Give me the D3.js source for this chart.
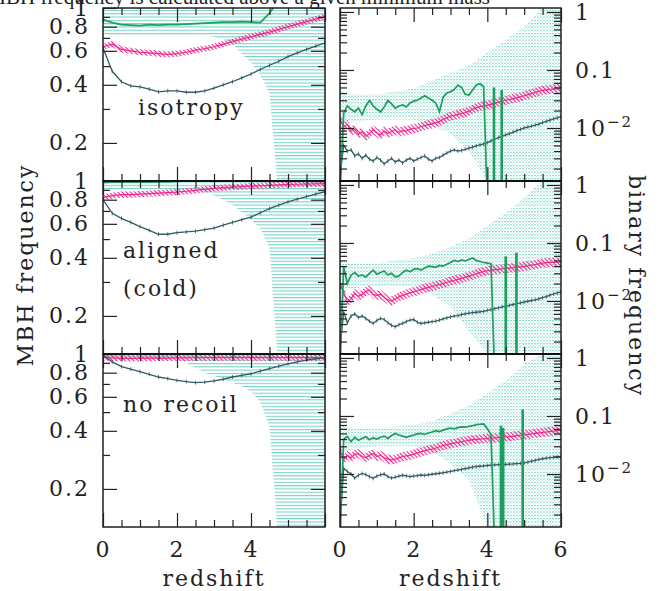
<!DOCTYPE html>
<html lang="en">
<head>
<meta charset="UTF-8">
<title>MBH and binary frequency vs redshift</title>
<script src="https://cdn.jsdelivr.net/npm/d3@7.8.5/dist/d3.min.js"></script>
<style>
  body { margin: 0; background: #fff; }
  svg { display: block; }
  .lbl { font-family: "DejaVu Serif", serif; font-size: 22px; letter-spacing: 2px; fill: #222; }
</style>
</head>
<body>
<svg id="chart" width="662" height="591"></svg>
<script>
// redshift grids
const LZ = [0,0.25,0.5,0.75,1,1.25,1.5,1.75,2,2.25,2.5,2.75,3,3.25,3.5,3.75,4,4.25,4.5,4.75,5,5.25,5.5,5.75,6];
const RZ = [0,0.1,0.2,0.3,0.4,0.5,0.6,0.7,0.8,0.9,1,1.1,1.2,1.3,1.4,1.5,1.6,1.7,1.8,1.9,
  2,2.1,2.2,2.3,2.4,2.5,2.6,2.7,2.8,2.9,3,3.1,3.2,3.3,3.4,3.5,3.6,3.7,3.8,3.9,
  4,4.1,4.2,4.3,4.4,4.5,4.6,4.7,4.8,4.9,5,5.1,5.2,5.3,5.4,5.5,5.6,5.7,5.8,5.9,6];
const TZ = [0,0.15,0.5,1,1.5,2,2.5,3,3.5,4,4.5,5,5.5,6];

const PANEL_NAMES = ["isotropy", "aligned\n(cold)", "no recoil"];

// MBH frequency (left column), on LZ
const ISO_L_GREEN = [0.87,0.84,0.82,0.815,0.81,0.82,0.815,0.82,0.82,0.825,0.83,0.835,0.84,0.845,0.845,0.85,0.845,0.84,0.94,1.1,null,null,null,null,null];
const ISO_L_MAG = [0.63,0.65,0.61,0.60,0.59,0.585,0.58,0.575,0.58,0.59,0.605,0.615,0.63,0.65,0.67,0.69,0.71,0.73,0.75,0.775,0.80,0.825,0.85,0.875,0.90];
const ISO_L_DARK = [0.62,0.47,0.415,0.395,0.39,0.38,0.368,0.372,0.372,0.366,0.366,0.372,0.385,0.40,0.415,0.435,0.455,0.48,0.505,0.53,0.56,0.585,0.61,0.635,0.66];
const ISO_L_LO = [0.73,0.72,0.72,0.72,0.72,0.72,0.72,0.72,0.72,0.72,0.72,0.72,0.71,0.69,0.65,0.58,0.52,0.45,0.36,0.1,0.1,0.1,0.1,0.1,0.1];

const AL_L_GREEN = [0.98,0.985,0.985,0.985,0.985,0.985,0.99,0.99,0.995,1,1,1,1,1,1,1,1,1,1,1,null,null,null,null,null];
const AL_L_MAG = [0.82,0.84,0.85,0.85,0.855,0.86,0.865,0.87,0.875,0.885,0.895,0.905,0.915,0.925,0.93,0.935,0.94,0.945,0.95,0.955,0.96,0.962,0.965,0.967,0.97];
const AL_L_DARK = [0.80,0.68,0.64,0.61,0.58,0.555,0.53,0.53,0.54,0.545,0.55,0.56,0.57,0.59,0.61,0.63,0.65,0.685,0.72,0.75,0.78,0.805,0.83,0.855,0.88];
const AL_L_LO = [0.91,0.91,0.91,0.91,0.91,0.91,0.91,0.91,0.91,0.91,0.91,0.87,0.84,0.80,0.75,0.69,0.63,0.57,0.45,0.1,0.1,0.1,0.1,0.1,0.1];

const NR_L_GREEN = [0.995,0.995,0.995,0.995,0.995,0.995,0.995,0.995,0.995,0.995,0.995,0.995,0.995,0.995,0.995,0.995,0.995,0.995,0.995,0.995,null,null,null,null,null];
const NR_L_MAG = [0.96,0.955,0.95,0.95,0.95,0.952,0.953,0.953,0.955,0.955,0.956,0.957,0.957,0.958,0.958,0.958,0.958,0.958,0.958,0.958,0.958,0.958,0.958,0.958,0.958];
const NR_L_DARK = [0.99,0.91,0.86,0.835,0.81,0.785,0.76,0.745,0.73,0.72,0.71,0.715,0.725,0.74,0.76,0.775,0.79,0.815,0.84,0.865,0.89,0.91,0.93,0.945,0.955];
const NR_L_LO = [0.95,0.95,0.95,0.95,0.95,0.95,0.95,0.95,0.95,0.90,0.85,0.80,0.77,0.74,0.71,0.68,0.64,0.56,0.42,0.1,0.1,0.1,0.1,0.1,0.1];

// binary frequency (right column), on RZ
const ISO_R_GREEN = [0.0008,0.018,0.024,0.021,0.019,0.022,0.017,0.024,0.030,0.024,
  0.021,0.019,0.023,0.030,0.026,0.022,0.024,0.025,0.023,0.027,
  0.029,0.030,0.033,0.036,0.033,0.030,0.027,0.019,0.034,0.040,
  0.042,0.046,0.055,0.050,0.038,0.037,0.045,0.055,0.058,0.052,
  0.0005,null,null,null,null,null,null,null,null,null,
  null,null,null,null,null,null,null,null,null,null,null];
const ISO_R_MAG = [0.014,0.0105,0.0115,0.0088,0.0095,0.0078,0.0086,0.0072,0.0080,0.0092,
  0.0083,0.0076,0.0089,0.0081,0.0087,0.0093,0.0084,0.0090,0.0088,0.0095,
  0.0098,0.0100,0.0106,0.0110,0.0114,0.0118,0.0122,0.0130,0.0140,0.0150,
  0.0160,0.0165,0.0172,0.0178,0.0185,0.0195,0.0210,0.0225,0.0235,0.0242,
  0.0248,0.0255,0.0268,0.0280,0.0292,0.0302,0.0310,0.0320,0.0330,0.0345,
  0.0360,0.0375,0.0390,0.0410,0.0430,0.0445,0.0455,0.0462,0.0470,0.0475,0.0480];
const ISO_R_DARK = [0.0015,0.0050,0.0040,0.0042,0.0033,0.0036,0.0030,0.0034,0.0029,0.0027,
  0.0031,0.0028,0.0024,0.0027,0.0030,0.0026,0.0028,0.0025,0.0028,0.0030,
  0.0027,0.0029,0.0031,0.0033,0.0029,0.0027,0.0030,0.0031,0.0034,0.0037,
  0.0040,0.0042,0.0040,0.0041,0.0043,0.0045,0.0047,0.0049,0.0051,0.0053,
  0.0056,0.0060,0.0064,0.0068,0.0072,0.0076,0.0080,0.0085,0.0090,0.0095,
  0.0100,0.0104,0.0108,0.0112,0.0117,0.0124,0.0130,0.0137,0.0143,0.0150,0.0157];
const ISO_R_LO = [0.0012,0.012,0.013,0.014,0.014,0.014,0.011,0.008,0.004,0.0012,0.0012,0.0012,0.0012,0.0012];
const ISO_R_HI = [0.045,0.040,0.038,0.038,0.042,0.048,0.065,0.09,0.12,0.2,0.33,0.55,1.2,1.2];
const ISO_R_SPIKE_Z = [4.18, 4.39];
const ISO_R_SPIKE_V = [0.05, 0.045];

const AL_R_GREEN = [0.0008,0.039,0.020,0.028,0.031,0.027,0.028,0.026,0.030,0.034,
  0.029,0.031,0.033,0.028,0.030,0.026,0.027,0.031,0.034,0.032,
  0.035,0.036,0.034,0.037,0.040,0.039,0.038,0.041,0.040,0.043,
  0.046,0.050,0.048,0.051,0.049,0.052,0.055,0.050,0.048,0.046,
  0.045,0.044,0.0005,null,null,null,null,null,null,null,
  null,null,null,null,null,null,null,null,null,null,null];
const AL_R_MAG = [0.020,0.014,0.0095,0.011,0.0135,0.012,0.013,0.0145,0.0155,0.013,
  0.0125,0.013,0.0115,0.0105,0.010,0.0108,0.0118,0.0125,0.0132,0.0138,
  0.0145,0.015,0.0158,0.0165,0.0172,0.0178,0.0185,0.0192,0.0200,0.0210,
  0.0220,0.0228,0.0236,0.0245,0.0255,0.0268,0.0280,0.0295,0.0310,0.0322,
  0.0332,0.0340,0.0346,0.0352,0.0358,0.0363,0.0368,0.0374,0.0380,0.0388,
  0.0396,0.0405,0.0415,0.0425,0.0437,0.0450,0.0458,0.0462,0.0464,0.0465,0.0465];
const AL_R_DARK = [0.0015,0.0065,0.0042,0.0055,0.0060,0.0052,0.0055,0.0050,0.0045,0.0041,
  0.0046,0.0050,0.0048,0.0042,0.0038,0.0036,0.0039,0.0041,0.0044,0.0047,
  0.0048,0.0043,0.0041,0.0042,0.0043,0.0044,0.0045,0.0047,0.0049,0.0051,
  0.0053,0.0055,0.0056,0.0058,0.0060,0.0062,0.0063,0.0064,0.0065,0.0066,
  0.0069,0.0071,0.0074,0.0076,0.0079,0.0081,0.0084,0.0087,0.0090,0.0093,
  0.0096,0.0099,0.0102,0.0105,0.0109,0.0114,0.0119,0.0126,0.0132,0.0138,0.0143];
const AL_R_LO = [0.0012,0.015,0.017,0.018,0.018,0.018,0.013,0.008,0.003,0.0012,0.0012,0.0012,0.0012,0.0012];
const AL_R_HI = [0.05,0.045,0.045,0.045,0.05,0.055,0.065,0.085,0.12,0.2,0.33,0.6,1.2,1.2];
const AL_R_SPIKE_Z = [4.5, 4.79];
const AL_R_SPIKE_V = [0.059, 0.068];

const NR_R_GREEN = [0.0008,0.040,0.044,0.036,0.043,0.038,0.041,0.044,0.039,0.042,
  0.040,0.043,0.045,0.041,0.046,0.050,0.047,0.045,0.043,0.045,
  0.047,0.049,0.050,0.048,0.051,0.053,0.056,0.054,0.057,0.060,
  0.062,0.060,0.063,0.065,0.064,0.066,0.068,0.071,0.072,0.073,
  0.060,0.048,0.0005,null,null,null,null,null,null,null,
  null,null,null,null,null,null,null,null,null,null,null];
const NR_R_MAG = [0.026,0.0175,0.021,0.019,0.022,0.0225,0.020,0.019,0.021,0.0225,
  0.020,0.021,0.019,0.018,0.0175,0.018,0.019,0.020,0.0205,0.021,
  0.022,0.023,0.024,0.025,0.026,0.027,0.028,0.0295,0.031,0.032,
  0.033,0.034,0.035,0.036,0.037,0.038,0.039,0.0395,0.040,0.0405,
  0.041,0.0415,0.042,0.0425,0.043,0.0435,0.044,0.045,0.046,0.0465,
  0.047,0.048,0.049,0.050,0.051,0.052,0.053,0.054,0.055,0.056,0.057];
const NR_R_DARK = [0.0015,0.0125,0.0110,0.0100,0.0085,0.0095,0.0102,0.0098,0.0090,0.0084,
  0.0092,0.0097,0.0100,0.0090,0.0085,0.0088,0.0092,0.0095,0.0093,0.0090,
  0.0092,0.0094,0.0096,0.0095,0.0097,0.0099,0.0101,0.0103,0.0105,0.0108,
  0.0111,0.0114,0.0117,0.0120,0.0124,0.0128,0.0131,0.0134,0.0136,0.0138,
  0.0140,0.0142,0.0144,0.0145,0.0146,0.0147,0.0148,0.0149,0.0151,0.0153,
  0.0156,0.0160,0.0166,0.0172,0.0178,0.0183,0.0187,0.0191,0.0194,0.0197,0.0200];
const NR_R_LO = [0.004,0.025,0.028,0.03,0.03,0.03,0.025,0.015,0.008,0.0012,0.0012,0.0012,0.0012,0.0012];
const NR_R_HI = [0.07,0.065,0.06,0.06,0.065,0.07,0.08,0.11,0.15,0.25,0.4,0.8,1.2,1.2];
const NR_R_SPIKE_Z = [4.37, 4.43, 4.96];
const NR_R_SPIKE_V = [0.068, 0.062, 0.13];

// half-width of the pink error band, in dex
const MAG_ERR_L = 0.016;
const MAG_ERR_R = 0.08;

// tick labels
const LEFT_Y_LABELS = [0.2, 0.4, 0.6, 0.8, 1];
const LEFT_Y_MINOR = [0.3, 0.5, 0.7, 0.9];
const RIGHT_Y_LABELS = [0.01, 0.1, 1];
const X_MAJOR = [0, 2, 4, 6];
const X_MINOR = [0.5, 1, 1.5, 2.5, 3, 3.5, 4.5, 5, 5.5];

const C_GREEN = "#1b9e5e", C_MAG = "#f2278f", C_DARK = "#2e5c62", C_TEAL = "#62cbbf";

const svg = d3.select("#chart");
const TOPS = [8, 181, 354], PH = 173;
const xL = d3.scaleLinear().domain([0, 6]).range([103, 325]);
const xR = d3.scaleLinear().domain([0, 6]).range([340, 561]);

const defs = svg.append("defs");
// horizontal-line hatch (left), dotted hatch (right), diagonal pink hatch
const pl = defs.append("pattern").attr("id", "tealL").attr("patternUnits", "userSpaceOnUse")
  .attr("width", 6).attr("height", 3.3);
pl.append("rect").attr("width", 6).attr("height", 1.1).attr("fill", C_TEAL).attr("opacity", 0.85);
const pr = defs.append("pattern").attr("id", "tealR").attr("patternUnits", "userSpaceOnUse")
  .attr("width", 3).attr("height", 3.3);
pr.append("rect").attr("width", 2).attr("height", 1.1).attr("fill", C_TEAL).attr("opacity", 0.75);
pr.append("rect").attr("x", 2.2).attr("y", 1.6).attr("width", 0.8).attr("height", 1.2).attr("fill", C_TEAL).attr("opacity", 0.45);
const pm = defs.append("pattern").attr("id", "magHatch").attr("patternUnits", "userSpaceOnUse")
  .attr("width", 3).attr("height", 3).attr("patternTransform", "rotate(-45)");
pm.append("line").attr("x1", 1.5).attr("y1", 0).attr("x2", 1.5).attr("y2", 3)
  .attr("stroke", C_MAG).attr("stroke-width", 1.1);

const panels = [
  {col: "L", row: 0, z: LZ, green: ISO_L_GREEN, mag: ISO_L_MAG, dark: ISO_L_DARK, bz: LZ, lo: ISO_L_LO},
  {col: "L", row: 1, z: LZ, green: AL_L_GREEN, mag: AL_L_MAG, dark: AL_L_DARK, bz: LZ, lo: AL_L_LO},
  {col: "L", row: 2, z: LZ, green: NR_L_GREEN, mag: NR_L_MAG, dark: NR_L_DARK, bz: LZ, lo: NR_L_LO},
  {col: "R", row: 0, z: RZ, green: ISO_R_GREEN, mag: ISO_R_MAG, dark: ISO_R_DARK, bz: TZ, lo: ISO_R_LO, hi: ISO_R_HI, sz: ISO_R_SPIKE_Z, sv: ISO_R_SPIKE_V},
  {col: "R", row: 1, z: RZ, green: AL_R_GREEN, mag: AL_R_MAG, dark: AL_R_DARK, bz: TZ, lo: AL_R_LO, hi: AL_R_HI, sz: AL_R_SPIKE_Z, sv: AL_R_SPIKE_V},
  {col: "R", row: 2, z: RZ, green: NR_R_GREEN, mag: NR_R_MAG, dark: NR_R_DARK, bz: TZ, lo: NR_R_LO, hi: NR_R_HI, sz: NR_R_SPIKE_Z, sv: NR_R_SPIKE_V}
];

function styleLabels(g) {
  g.attr("font-family", null).attr("font-size", null);
  g.selectAll(".tick text").attr("class", "lbl").attr("fill", null);
}

panels.forEach((p, i) => {
  const top = TOPS[p.row], bot = top + PH;
  const left = p.col === "L";
  const x = left ? xL : xR;
  const y = d3.scaleLog().domain(left ? [0.127, 1] : [0.00122, 1.17]).range([bot, top]);
  const err = left ? MAG_ERR_L : MAG_ERR_R;

  defs.append("clipPath").attr("id", "clip" + i)
    .append("rect").attr("x", x(0)).attr("y", top).attr("width", x(6) - x(0)).attr("height", PH);
  const g = svg.append("g").attr("clip-path", `url(#clip${i})`);

  // teal hatched band
  const band = p.bz.map((z, k) => ({z, lo: p.lo[k], hi: p.hi ? p.hi[k] : 1.2}));
  g.append("path").datum(band)
    .attr("d", d3.area().x(d => x(d.z)).y0(d => y(d.lo)).y1(d => y(d.hi)))
    .attr("fill", left ? "url(#tealL)" : "url(#tealR)");

  // pink band + line
  const mag = p.z.map((z, k) => ({z, v: p.mag[k]}));
  g.append("path").datum(mag)
    .attr("d", d3.area().x(d => x(d.z)).y0(d => y(d.v * Math.pow(10, -err))).y1(d => y(d.v * Math.pow(10, err))))
    .attr("fill", "url(#magHatch)");
  g.append("path").datum(mag)
    .attr("d", d3.line().x(d => x(d.z)).y(d => y(d.v)))
    .attr("fill", "none").attr("stroke", C_MAG).attr("stroke-width", 1.2);

  // dark line with small error ticks
  const dark = p.z.map((z, k) => ({z, v: p.dark[k]}));
  g.append("path").datum(dark)
    .attr("d", d3.line().x(d => x(d.z)).y(d => y(d.v)))
    .attr("fill", "none").attr("stroke", C_DARK).attr("stroke-width", 1.3);
  g.selectAll(".dtick").data(dark).join("line")
    .attr("x1", d => x(d.z)).attr("x2", d => x(d.z))
    .attr("y1", d => y(d.v) - 2).attr("y2", d => y(d.v) + 2)
    .attr("stroke", C_DARK).attr("stroke-width", 0.8);

  // green line
  const green = p.z.map((z, k) => ({z, v: p.green[k]}));
  g.append("path").datum(green)
    .attr("d", d3.line().defined(d => d.v != null).x(d => x(d.z)).y(d => y(d.v)))
    .attr("fill", "none").attr("stroke", C_GREEN).attr("stroke-width", 1.7);
  if (p.sz) {
    g.selectAll(".spike").data(p.sz.map((z, k) => ({z, v: p.sv[k]}))).join("line")
      .attr("x1", d => x(d.z)).attr("x2", d => x(d.z))
      .attr("y1", bot).attr("y2", d => y(d.v))
      .attr("stroke", C_GREEN).attr("stroke-width", 2.6);
  }

  // frame
  svg.append("rect").attr("x", x(0)).attr("y", top).attr("width", x(6) - x(0)).attr("height", PH)
    .attr("fill", "none").attr("stroke", "#111").attr("stroke-width", 1.4);

  // inward ticks
  const tickAxis = (axis, tr, vals, len) => svg.append("g").attr("transform", tr)
    .call(axis.tickValues(vals).tickSize(-len).tickFormat(""))
    .call(s => s.select(".domain").remove())
    .call(s => s.selectAll(".tick line").attr("stroke", "#222").attr("stroke-width", 1.2));
  tickAxis(d3.axisBottom(x), `translate(0,${bot})`, X_MAJOR, 14);
  tickAxis(d3.axisBottom(x), `translate(0,${bot})`, X_MINOR, 7);
  tickAxis(d3.axisTop(x), `translate(0,${top})`, X_MAJOR, 14);
  tickAxis(d3.axisTop(x), `translate(0,${top})`, X_MINOR, 7);
  let yMajor, yMinor;
  if (left) {
    yMajor = LEFT_Y_LABELS; yMinor = LEFT_Y_MINOR;
  } else {
    yMajor = [0.01, 0.1, 1];
    yMinor = [];
    [0.001, 0.01, 0.1].forEach(d => [2,3,4,5,6,7,8,9].forEach(m => yMinor.push(d * m)));
    yMinor = yMinor.filter(v => v >= 0.00122);
  }
  tickAxis(d3.axisLeft(y), `translate(${x(0)},0)`, yMajor, 14);
  tickAxis(d3.axisLeft(y), `translate(${x(0)},0)`, yMinor, 7);
  tickAxis(d3.axisRight(y), `translate(${x(6)},0)`, yMajor, 14);
  tickAxis(d3.axisRight(y), `translate(${x(6)},0)`, yMinor, 7);

  // tick labels
  if (left) {
    svg.append("g").attr("transform", `translate(${x(0)},0)`)
      .call(d3.axisLeft(y).tickValues(LEFT_Y_LABELS).tickSize(0).tickPadding(13).tickFormat(d => String(d)))
      .call(s => s.select(".domain").remove())
      .call(styleLabels);
  } else {
    const ax = svg.append("g").attr("transform", `translate(${x(6)},0)`)
      .call(d3.axisRight(y).tickValues(RIGHT_Y_LABELS).tickSize(0).tickPadding(14).tickFormat(d => d === 0.01 ? "10" : String(d)))
      .call(s => s.select(".domain").remove())
      .call(styleLabels);
    ax.selectAll(".tick text").filter(d => d === 0.01)
      .append("tspan").attr("dy", "-0.55em").attr("font-size", "15px").text("\u22122");
  }
  if (p.row === 2) {
    svg.append("g").attr("transform", `translate(0,${bot})`)
      .call(d3.axisBottom(x).tickValues(left ? [0, 2, 4] : [0, 2, 4, 6]).tickSize(0).tickPadding(14).tickFormat(d3.format("d")))
      .call(s => s.select(".domain").remove())
      .call(styleLabels);
    svg.append("text").attr("class", "lbl").attr("x", (x(0) + x(6)) / 2).attr("y", 586)
      .attr("text-anchor", "middle").text("redshift");
  }

  // panel name
  if (left) {
    const lines = PANEL_NAMES[p.row].split("\n");
    const pos = [[138, 115], [123, 258], [123, 412]][p.row];
    lines.forEach((t, k) => svg.append("text").attr("class", "lbl")
      .attr("x", pos[0]).attr("y", pos[1] + k * 38).text(t));
  }
});

// thicker shared borders between stacked panels
[181, 354].forEach(yy => {
  [xL, xR].forEach(x => svg.append("line").attr("x1", x(0)).attr("x2", x(6))
    .attr("y1", yy).attr("y2", yy).attr("stroke", "#111").attr("stroke-width", 2.2));
});

svg.append("text").attr("class", "lbl").attr("transform", "translate(33,265) rotate(-90)")
  .attr("text-anchor", "middle").text("MBH frequency");
svg.append("text").attr("class", "lbl").attr("transform", "translate(629,286) rotate(90)")
  .attr("text-anchor", "middle").text("binary frequency");

// caption line cut at the top edge
svg.append("text").attr("x", 490).attr("y", 4).attr("text-anchor", "end")
  .attr("font-family", "Liberation Serif, serif").attr("font-size", 21).attr("fill", "#222")
  .text("The MBH frequency is calculated above a given minimum mass");
</script>
</body>
</html>
